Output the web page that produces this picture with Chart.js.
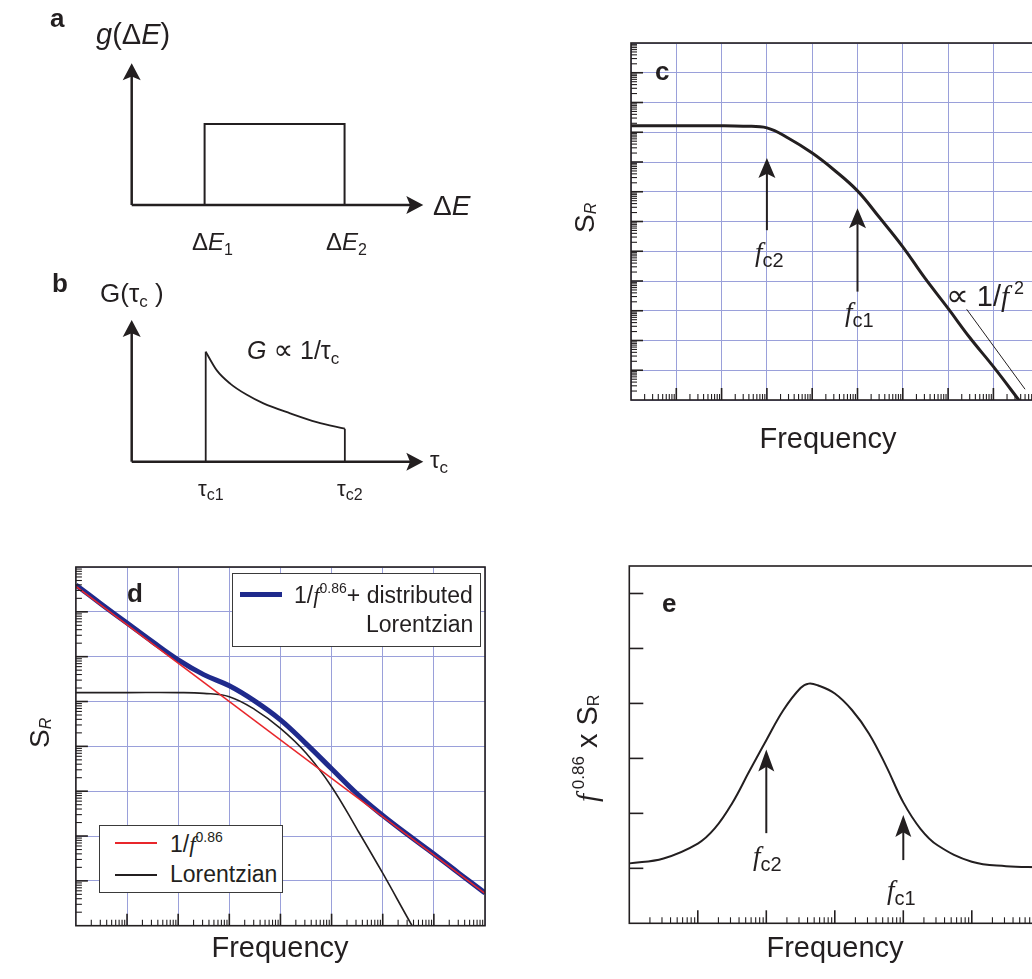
<!DOCTYPE html>
<html>
<head>
<meta charset="utf-8">
<script src="https://cdn.jsdelivr.net/npm/chart.js@4.4.1/dist/chart.umd.min.js"></script>
<style>
  html, body { margin: 0; padding: 0; background: #fff; overflow: hidden; width: 1032px; height: 979px; }
  #wrap { position: relative; width: 1100px; height: 979px; }
  canvas { position: absolute; left: 0; top: 0; }
  .t { position: absolute; white-space: nowrap; line-height: 1; color: #231f20;
       font-family: "Liberation Sans", "DejaVu Sans", Arial, sans-serif; }
  .t i { font-style: italic; }
  .f { font-family: "Liberation Serif", "DejaVu Serif", serif; font-style: italic; }
  .s { position: relative; }
  .prop { font-family: "DejaVu Sans", sans-serif; }
  .box { position: absolute; background: #fff; border: 1.3px solid #3a3a3a; box-sizing: border-box; }
  .swatch { position: absolute; }
</style>
</head>
<body>
<div id="wrap">
  <canvas id="chartA" width="1100" height="979"></canvas>
  <canvas id="chartB" width="1100" height="979"></canvas>
  <canvas id="chartC" width="1100" height="979"></canvas>
  <canvas id="chartD" width="1100" height="979"></canvas>
  <canvas id="chartE" width="1100" height="979"></canvas>
</div>
<script>
// ---- data ----

// a: g(ΔE), flat between ΔE1 and ΔE2
const aEnergy = [1, 1, 2.92, 2.92];
const aDensity = [0, 1, 1, 0];

// b: G(τc) between τc1 and τc2
const bTau = [1.0, 1.15, 1.33, 1.55, 1.78, 2.14, 2.5, 2.88];
const bG = [1.0, 0.83, 0.71, 0.61, 0.53, 0.44, 0.36, 0.30];

// c: S_R of the distributed Lorentzian
const cFreq = [1, 10, 100, 300, 1e3, 3e3, 1e4, 3e4, 1e5, 3e5, 1e6, 3e6, 1e7, 3e7, 1e8, 4e8];
const cSR = [1.66e9, 1.66e9, 1.66e9, 1.6e9, 1.4e9, 6.3e8, 2.0e8, 5.5e7, 1.07e7, 1.41e6, 1.41e5, 1.32e4, 1200, 126, 13.2, 0.83];
const cGuideFreq = [2.57e7, 5.0e8];
const cGuideSR = [1120, 2.3];

// d: 1/f^0.86, Lorentzian, and their sum
const dPowerFreq = [1, 1e8];
const dPower = [3.7e7, 5.25];
const dLorFreq = [1, 10, 100, 316, 1e3, 3.16e3, 1e4, 3.16e4, 1e5, 3.16e5, 1e6, 3.16e6, 1e7];
const dLor = [1.58e5, 1.58e5, 1.58e5, 1.52e5, 1.28e5, 6.6e4, 2.51e4, 7.08e3, 1.26e3, 141, 14.8, 1.41, 0.14];
const dFreq = [1, 3.16, 10, 31.6, 100, 316, 1e3, 3.16e3, 1e4, 3.16e4, 1e5, 3.16e5, 1e6, 3.16e6, 1e7, 3.16e7, 1e8];
const dTotal = [3.98e7, 1.48e7, 5.62e6, 2.14e6, 8.51e5, 3.98e5, 2.24e5, 1.02e5, 3.89e4, 1.15e4, 3.16e3, 871, 288, 105, 39.8, 14.5, 5.37];

// e: f^0.86 x S_R
const eFreq = [1, 3.16, 10, 17.8, 31.6, 56.2, 100, 178, 316, 417, 562, 1e3, 1.78e3, 3.16e3, 5.62e3, 1e4, 1.78e4, 3.16e4, 1e5, 3.16e5, 1e6];
const eProduct = [1.09, 1.18, 1.45, 1.73, 2.18, 2.76, 3.33, 3.88, 4.28, 4.36, 4.33, 4.18, 3.88, 3.45, 2.86, 2.2, 1.72, 1.42, 1.12, 1.04, 1.02];
const eTicks = [1, 2, 3, 4, 5, 6];

// ---- helpers ----
const INK = '#231f20';
const GRID = '#9aa0da';
const W = 1100, H = 979;

const pts = (xs, ys) => xs.map((x, i) => ({ x: x, y: ys[i] }));

function area(left, top, right, bottom) {
  return { left: left, top: top, right: W - right, bottom: H - bottom };
}

function logTicks(lo, hi) {
  const t = [];
  for (let e = lo; e <= hi; e++) {
    t.push({ value: Math.pow(10, e), major: true });
    if (e < hi) for (let m = 2; m <= 9; m++) t.push({ value: m * Math.pow(10, e), major: false });
  }
  return t;
}

function logAxis(lo, hi, grid) {
  return {
    type: 'logarithmic', min: Math.pow(10, lo), max: Math.pow(10, hi),
    afterBuildTicks: s => { s.ticks = logTicks(lo, hi); },
    ticks: { display: false, autoSkip: false },
    grid: { drawTicks: false, lineWidth: 1, color: c => (grid && c.tick && c.tick.major) ? GRID : 'rgba(0,0,0,0)' },
    border: { display: false }
  };
}

function linAxis(min, max, ticks) {
  return {
    type: 'linear', min: min, max: max,
    afterBuildTicks: s => { s.ticks = (ticks || []).map(v => ({ value: v, major: true })); },
    ticks: { display: false },
    grid: { display: false, drawTicks: false },
    border: { display: false }
  };
}

function head(ctx, tx, ty, dx, dy, len, half) {
  const bx = tx - dx * len, by = ty - dy * len;
  const px = -dy, py = dx;
  ctx.beginPath();
  ctx.moveTo(tx, ty);
  ctx.lineTo(bx + px * half, by + py * half);
  ctx.lineTo(tx - dx * len * 0.78, ty - dy * len * 0.78);
  ctx.lineTo(bx - px * half, by - py * half);
  ctx.closePath();
  ctx.fill();
}

// frame, inward ticks, axis arrows and marker arrows
function decor(cfg) {
  return {
    id: 'decor',
    afterDraw(chart) {
      const ctx = chart.ctx, a = chart.chartArea, xs = chart.scales.x, ys = chart.scales.y;
      ctx.save();
      ctx.strokeStyle = INK;
      ctx.fillStyle = INK;
      const seg = (x1, y1, x2, y2, w) => {
        ctx.lineWidth = w;
        ctx.beginPath(); ctx.moveTo(x1, y1); ctx.lineTo(x2, y2); ctx.stroke();
      };
      if (cfg.xTicks) {
        xs.ticks.forEach(t => {
          const p = xs.getPixelForValue(t.value);
          if (p <= a.left + 1 || p >= a.right - 1) return;
          const len = t.major ? cfg.xTicks[0] : cfg.xTicks[1];
          seg(p, a.bottom, p, a.bottom - len, t.major ? 1.6 : 1.1);
        });
      }
      if (cfg.yTicks) {
        ys.ticks.forEach(t => {
          const p = ys.getPixelForValue(t.value);
          if (p <= a.top + 1 || p >= a.bottom - 1) return;
          const len = t.major ? cfg.yTicks[0] : cfg.yTicks[1];
          seg(a.left, p, a.left + len, p, t.major ? 1.6 : 1.1);
        });
      }
      if (cfg.frame) {
        ctx.lineWidth = 1.6;
        ctx.strokeRect(a.left, a.top, a.right - a.left, a.bottom - a.top);
      }
      if (cfg.axes) {
        const x0 = xs.getPixelForValue(0), y0 = ys.getPixelForValue(0);
        seg(x0, y0, a.right - 10, y0, 2.5);
        head(ctx, a.right, y0, 1, 0, 17, 9);
        seg(x0, y0, x0, a.top + 10, 2.5);
        head(ctx, x0, a.top, 0, -1, 17, 9);
      }
      (cfg.arrows || []).forEach(r => {
        const x = xs.getPixelForValue(r.x), yb = ys.getPixelForValue(r.from), yt = ys.getPixelForValue(r.to);
        seg(x, yb, x, yt + r.len * 0.6, 2);
        head(ctx, x, yt, 0, -1, r.len, r.half);
      });
      ctx.restore();
    }
  };
}

function makeChart(id, datasets, xAxis, yAxis, pad, plugin) {
  return new Chart(document.getElementById(id), {
    type: 'line',
    data: { datasets: datasets },
    options: {
      responsive: false,
      animation: false,
      events: [],
      layout: { padding: pad },
      elements: { point: { radius: 0 }, line: { tension: 0.4 } },
      plugins: { legend: { display: false }, tooltip: { enabled: false } },
      scales: { x: xAxis, y: yAxis }
    },
    plugins: [plugin]
  });
}

// ---- a ----
makeChart('chartA', [
  { data: pts(aEnergy, aDensity), borderColor: INK, borderWidth: 2, tension: 0, clip: false }
], linAxis(0, 4), linAxis(0, 1.75), area(131.7, 63.3, 423.3, 205), decor({ axes: true }));

// ---- b ----
makeChart('chartB', [
  { data: pts(bTau, bG), borderColor: INK, borderWidth: 1.8, cubicInterpolationMode: 'monotone', clip: false },
  { data: [{ x: bTau[0], y: 0 }, { x: bTau[0], y: bG[0] }], borderColor: INK, borderWidth: 1.8, tension: 0, clip: false },
  { data: [{ x: bTau[bTau.length - 1], y: bG[bG.length - 1] }, { x: bTau[bTau.length - 1], y: 0 }], borderColor: INK, borderWidth: 1.8, tension: 0, clip: false }
], linAxis(0, 3.94), linAxis(0, 1.288), area(131.7, 320, 423.3, 461.7), decor({ axes: true }));

// ---- c ----
makeChart('chartC', [
  { data: pts(cFreq, cSR), borderColor: INK, borderWidth: 3 },
  { data: pts(cGuideFreq, cGuideSR), borderColor: INK, borderWidth: 1, tension: 0 }
], logAxis(0, 9, true), logAxis(0, 12, true), area(631, 43, 1038.7, 400), decor({
  frame: true, xTicks: [12, 6], yTicks: [12, 6],
  arrows: [
    { x: 1e3, from: 5.1e5, to: 1.35e8, len: 20, half: 8.5 },
    { x: 1e5, from: 4.4e3, to: 2.8e6, len: 20, half: 8.5 }
  ]
}));

// ---- d ----
makeChart('chartD', [
  { data: pts(dPowerFreq, dPower), borderColor: '#e8262b', borderWidth: 1.6, tension: 0 },
  { data: pts(dLorFreq, dLor), borderColor: INK, borderWidth: 1.6 },
  { data: pts(dFreq, dTotal), borderColor: '#1f2a8c', borderWidth: 5 }
], logAxis(0, 8, true), logAxis(0, 8, true), area(75.9, 567, 485, 925.7), decor({
  frame: true, xTicks: [12, 6], yTicks: [12, 6]
}));

// ---- e ----
makeChart('chartE', [
  { data: pts(eFreq, eProduct), borderColor: INK, borderWidth: 2 }
], logAxis(0, 6, false), linAxis(0, 6.5, eTicks), area(629.3, 566, 1040.3, 923.3), decor({
  frame: true, xTicks: [13, 6], yTicks: [14, 14],
  arrows: [
    { x: 100, from: 1.64, to: 3.16, len: 22, half: 8 },
    { x: 1e4, from: 1.15, to: 1.97, len: 22, half: 8 }
  ]
}));

// ---- text ----
const wrap = document.getElementById('wrap');
function put(x, base, size, html, o) {
  o = o || {};
  const d = document.createElement('div');
  d.className = 't';
  d.style.fontSize = size + 'px';
  d.innerHTML = html;
  if (o.rot) {
    d.style.left = (x - 0.847 * size) + 'px';
    d.style.top = base + 'px';
    d.style.transformOrigin = '0 0';
    d.style.transform = 'rotate(-90deg)';
  } else {
    d.style.left = x + 'px';
    d.style.top = (base - 0.847 * size) + 'px';
    if (o.center) d.style.transform = 'translateX(-50%)';
  }
  if (o.bold) d.style.fontWeight = 'bold';
  wrap.appendChild(d);
}
const sub = (t, size, dy) => '<span class="s" style="font-size:' + size + 'px;top:' + dy + 'px">' + t + '</span>';
const fc = n => '<span class="f">f</span>' + sub('c' + n, 20, 6);
const prop = '<span class="prop" style="font-size:1.1em">∝</span>';

put(50, 27, 26, 'a', { bold: true });
put(96, 45, 29, '<i>g</i>(Δ<i>E</i>)');
put(433, 216, 28, 'Δ<i>E</i>');
put(192, 250, 24, 'Δ<i>E</i>' + sub('1', 16, 5));
put(326, 250, 24, 'Δ<i>E</i>' + sub('2', 16, 5));

put(52, 292, 26, 'b', { bold: true });
put(100, 302, 26, 'G(τ' + sub('c', 17, 5) + ' )');
put(247, 357, 25, '<i>G</i> ' + prop + ' 1/τ' + sub('c', 17, 5));
put(430, 468, 24, 'τ' + sub('c', 17, 5));
put(198, 497, 22, 'τ' + sub('c1', 16, 4));
put(337, 497, 22, 'τ' + sub('c2', 16, 4));

put(655, 80, 26, 'c', { bold: true });
put(595, 233, 28, 'S' + sub('<i>R</i>', 16, 2), { rot: true });
put(828, 449, 29, 'Frequency', { center: true });
put(755, 262, 27, fc(2));
put(845, 322, 27, fc(1));
put(946, 305, 29, prop + ' 1/<span class="f">f</span>' + sub(' 2', 18, -12));

put(127, 602, 26, 'd', { bold: true });
put(50, 748, 28, 'S' + sub('<i>R</i>', 16, 2), { rot: true });
put(280, 958, 29, 'Frequency', { center: true });

put(662, 612, 26, 'e', { bold: true });
put(598, 802, 29, '<span class="f">f</span>' + sub(' 0.86', 17, -13) + ' x S' + sub('R', 16, 2), { rot: true });
put(835, 958, 29, 'Frequency', { center: true });
put(753, 866, 27, fc(2));
put(887, 900, 27, fc(1));

// legends of d
function box(l, t, w, h) {
  const b = document.createElement('div');
  b.className = 'box';
  b.style.left = l + 'px'; b.style.top = t + 'px'; b.style.width = w + 'px'; b.style.height = h + 'px';
  wrap.appendChild(b);
}
function swatch(l, y, w, h, color) {
  const s = document.createElement('div');
  s.className = 'swatch';
  s.style.left = l + 'px'; s.style.top = (y - h / 2) + 'px'; s.style.width = w + 'px'; s.style.height = h + 'px';
  s.style.background = color;
  wrap.appendChild(s);
}
box(231.7, 572.7, 249, 74.6);
swatch(240, 594, 42, 5, '#1f2a8c');
put(294, 603, 23, '1/<span class="f">f</span>' + sub('0.86', 14, -10) + '+ distributed');
put(366, 632, 23, 'Lorentzian');
box(99.3, 825, 184, 68.3);
swatch(115, 843.3, 42, 2, '#e8262b');
put(170, 852, 23, '1/<span class="f">f</span>' + sub('0.86', 14, -10));
swatch(115, 875, 42, 2, INK);
put(170, 882, 23, 'Lorentzian');
</script>
</body>
</html>
